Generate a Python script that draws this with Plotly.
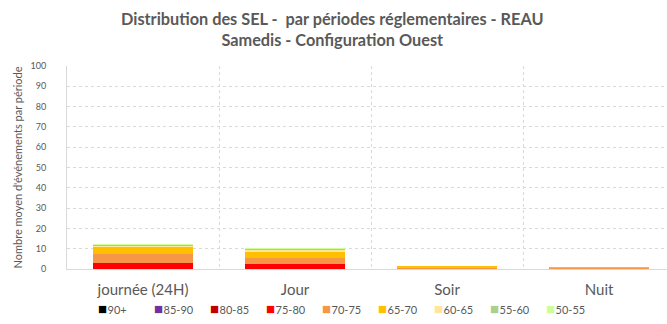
import plotly.graph_objects as go

# Regulatory periods (x categories)
periods = ["journée (24H)", "Jour", "Soir", "Nuit"]

# SEL classes, from the bottom of the stack to the top
classes = ["90+", "85-90", "80-85", "75-80", "70-75", "65-70", "60-65", "55-60", "50-55"]
colors = ["#000000", "#7030A0", "#C00000", "#FF0000", "#F79646",
          "#FFC000", "#FFE699", "#A9D08E", "#CCFF99"]

# Mean number of events per period, one list per SEL class
v_90p = [0.0, 0.0, 0.0, 0.0]
v_85_90 = [0.0, 0.0, 0.0, 0.0]
v_80_85 = [0.1, 0.0, 0.0, 0.0]
v_75_80 = [3.1, 2.3, 0.0, 0.0]
v_70_75 = [4.3, 3.3, 0.4, 0.8]
v_65_70 = [3.4, 2.6, 1.3, 0.1]
v_60_65 = [0.6, 1.4, 0.0, 0.0]
v_55_60 = [0.5, 0.5, 0.0, 0.0]
v_50_55 = [0.1, 0.1, 0.0, 0.0]

series = [v_90p, v_85_90, v_80_85, v_75_80, v_70_75, v_65_70, v_60_65, v_55_60, v_50_55]

title_lines = ["Distribution des SEL -  par périodes réglementaires - REAU",
               "Samedis - Configuration Ouest"]
y_title = "Nombre moyen d'événements par période"

grey = "#595959"
grid = "#D9D9D9"
font_family = "Lato, 'Open Sans', sans-serif"

fig = go.Figure()
for name, vals, col in zip(classes, series, colors):
    # stacked bars; their legend entry comes from the compact entries below
    fig.add_trace(go.Bar(
        x=periods, y=vals, name=name, legendgroup=name, showlegend=False,
        marker=dict(color=col, line=dict(width=0)),
    ))
for name, col in zip(classes, colors):
    # compact legend entry: coloured square glyph followed by the class label
    label = ("<span style='font-size:15px;color:%s'>■</span>"
             "<span style='font-size:2px'> </span>%s") % (col, name)
    fig.add_trace(go.Scatter(
        x=[None], y=[None], mode="markers", name=label, legendgroup=name,
        marker=dict(size=1, color="rgba(0,0,0,0)"),
    ))
# empty trailing entry so the last label keeps room inside the legend box
fig.add_trace(go.Scatter(
    x=[None], y=[None], mode="markers", name=" ", hoverinfo="skip",
    marker=dict(size=1, color="rgba(0,0,0,0)"),
))

fig.update_layout(
    width=667, height=324,
    barmode="stack", bargap=0.34,
    paper_bgcolor="white", plot_bgcolor="white",
    margin=dict(l=67, r=0, t=66, b=55, autoexpand=False),
    font=dict(family=font_family, color=grey),
    showlegend=True,
    legend=dict(
        orientation="h", traceorder="normal",
        x=-0.015, xanchor="left",
        y=-0.2, yanchor="middle",
        font=dict(size=11, color=grey),
        itemwidth=30, entrywidth=11, entrywidthmode="pixels",
        tracegroupgap=0,
        bgcolor="rgba(0,0,0,0)",
    ),
    annotations=[dict(
        text="<b>" + title_lines[0] + "</b><br><b>" + title_lines[1] + "</b>",
        x=0.443, xref="paper", xanchor="center",
        y=1.182, yref="paper", yanchor="middle",
        showarrow=False, align="center",
        font=dict(size=16.3, color=grey, family=font_family),
    )],
)

fig.update_xaxes(
    range=[-0.5, 3.447],
    tickson="boundaries",
    showgrid=True, gridcolor=grid, griddash="dot", gridwidth=1,
    showline=True, linecolor=grid, linewidth=1,
    ticks="", ticklabelstandoff=7,
    tickfont=dict(size=15, color=grey),
    fixedrange=True,
)

fig.update_yaxes(
    range=[0, 100], dtick=10,
    showgrid=True, gridcolor=grid, griddash="dot", gridwidth=1,
    showline=True, linecolor=grid, linewidth=1,
    zeroline=False,
    ticks="", ticklabelstandoff=18,
    tickfont=dict(size=9, color=grey),
    title=dict(text=y_title, font=dict(size=11, color=grey), standoff=5),
    automargin=False,
)

fig.write_html("out.html")
